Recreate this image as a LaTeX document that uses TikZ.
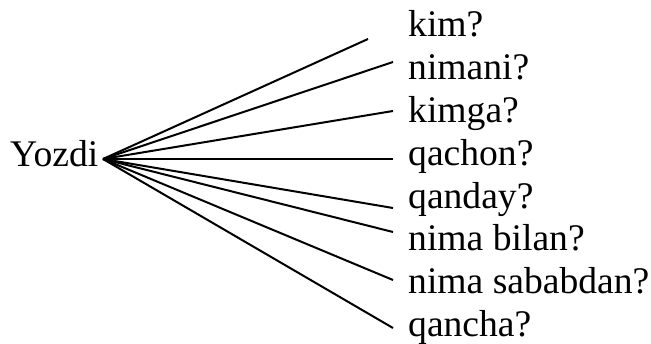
\documentclass[tikz,border=0pt]{standalone}
\usepackage{fontspec}
\setmainfont{Liberation Serif}
\usepackage{tikz}

\begin{document}
\begin{tikzpicture}[x = 1pt, y = -1pt, every node/.style = {inner sep = 0pt, font = \fontsize{37.6}{43}\selectfont}, ans/.style = {anchor = base west}, spoke/.style = {line width = 2pt}]
\useasboundingbox (0,0) rectangle (651,344);
\node[anchor = base west] (yozdi) at (10,167) {Yozdi};
\coordinate (hub) at (103,159);
\node[ans] (kim) at (408,37) {kim?};
\node[ans] (nimani) at (408,80) {nimani?};
\node[ans] (kimga) at (408,123) {kimga?};
\node[ans] (qachon) at (408,166) {qachon?};
\node[ans] (qanday) at (408,209) {qanday?};
\node[ans] (bilan) at (408,251) {nima bilan?};
\node[ans] (sabab) at (408,294) {nima sababdan?};
\node[ans] (qancha) at (408,337) {qancha?};
\coordinate (e1) at (368,39);
\coordinate (e2) at (393,62);
\coordinate (e3) at (393,111);
\coordinate (e4) at (393,159);
\coordinate (e5) at (393,208);
\coordinate (e6) at (393,232);
\coordinate (e7) at (393,280);
\coordinate (e8) at (393,328);
\draw[spoke] (hub) -- (e1);
\draw[spoke] (hub) -- (e2);
\draw[spoke] (hub) -- (e3);
\draw[spoke] (hub) -- (e4);
\draw[spoke] (hub) -- (e5);
\draw[spoke] (hub) -- (e6);
\draw[spoke] (hub) -- (e7);
\draw[spoke] (hub) -- (e8);
\end{tikzpicture}
\end{document}
